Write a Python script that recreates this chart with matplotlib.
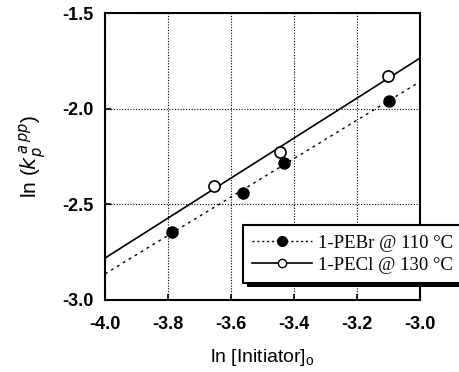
import numpy as np
import matplotlib
matplotlib.use("Agg")
import matplotlib.pyplot as plt
from matplotlib.patches import Rectangle

# 1-PEBr @ 110 C (filled circles)
pebr_x = [-3.788, -3.563, -3.431, -3.098]
pebr_y = [-2.646, -2.439, -2.283, -1.958]

# 1-PECl @ 130 C (open circles)
pecl_x = [-3.653, -3.444, -3.100]
pecl_y = [-2.403, -2.225, -1.831]

x_ticks = [-4.0, -3.8, -3.6, -3.4, -3.2, -3.0]
y_ticks = [-3.0, -2.5, -2.0, -1.5]

fig = plt.figure(figsize=(4.59, 3.72), dpi=100)
ax = fig.add_axes([0.229, 0.194, 0.686, 0.771])

# linear fits drawn across the full x range
xfit = np.array([-4.0, -3.0])
p1 = np.polyfit(pebr_x, pebr_y, 1)
p2 = np.polyfit(pecl_x, pecl_y, 1)

ax.plot(xfit, np.polyval(p1, xfit), color='black', linestyle=(0, (2, 3)), linewidth=1.0)
ax.plot(xfit, np.polyval(p2, xfit), color='black', linestyle='-', linewidth=1.2)
ax.plot(pebr_x, pebr_y, 'o', color='black', markersize=8)
ax.plot(pecl_x, pecl_y, 'o', markerfacecolor='white', markeredgecolor='black',
        markersize=8, markeredgewidth=1.2)

# legend proxies
h1, = ax.plot([], [], color='black', linestyle=(0, (1.5, 2)), linewidth=1.0,
              marker='o', markersize=7)
h2, = ax.plot([], [], color='black', linestyle='-', linewidth=1.2,
              marker='o', markerfacecolor='white', markersize=6)

ax.set_xlim(-4.0, -3.0)
ax.set_ylim(-3.0, -1.5)
ax.set_xticks(x_ticks)
ax.set_yticks(y_ticks)
ax.set_xticklabels(['%.1f' % v for v in x_ticks])
ax.set_yticklabels(['%.1f' % v for v in y_ticks])
ax.grid(True, color='black', linestyle=(0, (1, 1.5)), linewidth=0.8)
ax.tick_params(direction='in', length=4, width=1.2, labelsize=13)
ax.tick_params(axis='x', pad=12)
ax.tick_params(axis='y', pad=8)
for lab in ax.get_xticklabels() + ax.get_yticklabels():
    lab.set_fontfamily('Liberation Sans')
    lab.set_fontweight('bold')
for s in ax.spines.values():
    s.set_linewidth(1.5)

ax.set_xlabel(r'ln [Initiator]$_\mathregular{o}$', fontsize=14,
              fontfamily='Liberation Sans', labelpad=10)
ax.set_ylabel(r'ln ($k_p^{\,a\,pp}$)', fontsize=15,
              fontfamily='Liberation Sans', labelpad=10)

leg = ax.legend([h1, h2], ['1-PEBr @ 110 °C', '1-PECl @ 130 °C'],
                loc='lower left', bbox_to_anchor=(0.529, 0.239),
                bbox_transform=fig.transFigure, borderaxespad=0,
                prop={'family': 'Liberation Serif', 'size': 13.5},
                frameon=True, fancybox=False, framealpha=1, edgecolor='black',
                handlelength=3.2, handletextpad=0.3, borderpad=0.5,
                labelspacing=0.25)
leg.get_frame().set_linewidth(1.5)
leg.set_zorder(10)

# heavy black drop shadow behind the legend box
fig.canvas.draw()
bb = leg.get_frame().get_window_extent()
shadow = Rectangle((bb.x0 + 4, bb.y0 - 4), bb.width, bb.height,
                   transform=None, facecolor='black', edgecolor='none',
                   zorder=9, clip_on=False)
ax.add_artist(shadow)

fig.savefig('out.png', dpi=100)
